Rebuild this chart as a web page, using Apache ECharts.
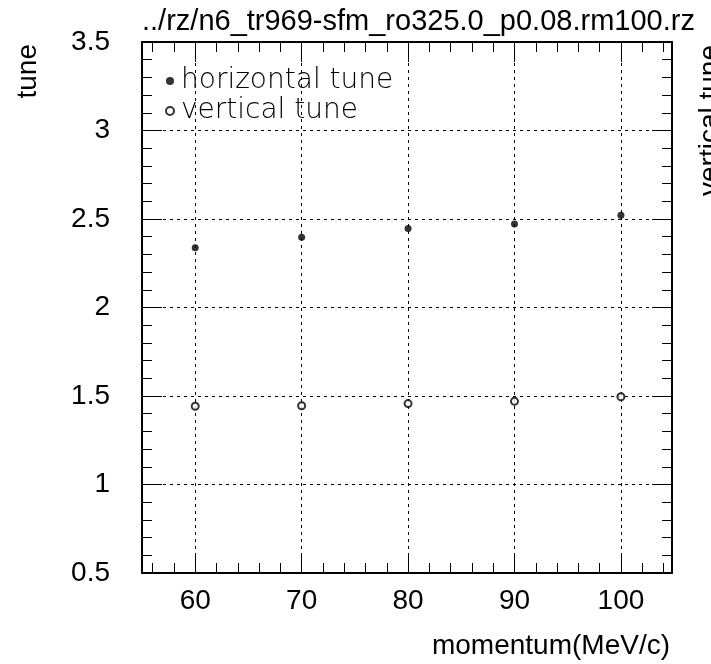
<!DOCTYPE html>
<html>
<head>
<meta charset="utf-8">
<script src="https://cdn.jsdelivr.net/npm/echarts@6/dist/echarts.min.js"></script>
<style>
html,body{margin:0;padding:0;background:#fff;}
#chart{width:711px;height:664px;}
</style>
</head>
<body>
<div id="chart"></div>
<script>
// ---- data ----
var momentum = [60, 70, 80, 90, 100];
var horizontalTune = [2.338, 2.397, 2.447, 2.472, 2.521];
var verticalTune = [1.442, 1.445, 1.457, 1.470, 1.496];
var xMajorTicks = [60, 70, 80, 90, 100];
var xMinorTicks = [56, 58, 62, 64, 66, 68, 72, 74, 76, 78, 82, 84, 86, 88, 92, 94, 96, 98, 102, 104];
var titleText = '../rz/n6_tr969-sfm_ro325.0_p0.08.rm100.rz';
var seriesNames = ['horizontal tune', 'vertical tune'];

var FONT = '"Liberation Sans", Arial, Helvetica, sans-serif';
var X_MIN = 55, X_MAX = 104.8, Y_MIN = 0.5, Y_MAX = 3.5;

function pairs(xs, ys) { return xs.map(function (x, i) { return [x, ys[i]]; }); }

var chart = echarts.init(document.getElementById('chart'), null, { renderer: 'canvas' });

var gridLine = { show: true, lineStyle: { color: '#000', width: 1, type: [3, 4] } };

function xAxisDef(pos, ticks, len, main) {
  return {
    type: 'value', position: pos, min: X_MIN, max: X_MAX,
    axisLine: { show: main, onZero: false, lineStyle: { color: '#000', width: 2 } },
    axisTick: { show: true, inside: true, length: len, customValues: ticks, lineStyle: { color: '#000', width: 1 } },
    axisLabel: (pos === 'bottom' && main) ? { show: true, customValues: xMajorTicks, margin: 14, color: '#000', fontSize: 28, fontFamily: FONT } : { show: false },
    splitLine: (pos === 'bottom' && main) ? gridLine : { show: false },
    minorTick: { show: false }
  };
}
function yAxisDef(pos, main) {
  return {
    type: 'value', position: pos, min: Y_MIN, max: Y_MAX, interval: 0.5,
    axisLine: { show: true, onZero: false, lineStyle: { color: '#000', width: 2 } },
    axisTick: { show: true, inside: true, length: 20, lineStyle: { color: '#000', width: 1 } },
    minorTick: { show: true, splitNumber: 5, length: 10, lineStyle: { color: '#000', width: 1 } },
    axisLabel: main ? { show: true, margin: 32, color: '#000', fontSize: 28, fontFamily: FONT } : { show: false },
    splitLine: main ? gridLine : { show: false }
  };
}

var option = {
  backgroundColor: '#fff',
  animation: false,
  grid: { left: 142, right: 39, top: 42, bottom: 91, containLabel: false, outerBoundsMode: 'none' },
  title: {
    text: titleText, left: 137, top: 2,
    textStyle: { color: '#000', fontSize: 29, fontWeight: 'normal', fontFamily: FONT }
  },
  legend: {
    orient: 'vertical', left: 160, top: 62, itemGap: 2,
    itemWidth: 8, itemHeight: 8,
    data: [
      { name: seriesNames[0], icon: 'circle' },
      { name: seriesNames[1], icon: 'circle' }
    ],
    textStyle: { color: '#000', fontSize: 28, fontWeight: 200, fontFamily: '"DejaVu Sans", sans-serif', padding: [0, 0, 0, 2] }
  },
  xAxis: [
    xAxisDef('bottom', xMajorTicks, 20, true),
    xAxisDef('top', xMajorTicks, 20, true),
    xAxisDef('bottom', xMinorTicks, 10, false),
    xAxisDef('top', xMinorTicks, 10, false)
  ],
  yAxis: [yAxisDef('left', true), yAxisDef('right', false)],
  graphic: [
    { type: 'text', x: 14, y: 44, rotation: Math.PI / 2,
      style: { text: 'tune', font: '28px ' + FONT, fill: '#000', align: 'right', verticalAlign: 'top' } },
    { type: 'text', x: 696, y: 45, rotation: Math.PI / 2,
      style: { text: 'vertical tune', font: '28px ' + FONT, fill: '#000', align: 'right', verticalAlign: 'top' } },
    { type: 'text', x: 670, y: 632,
      style: { text: 'momentum(MeV/c)', font: '28px ' + FONT, fill: '#000', align: 'right', verticalAlign: 'top' } }
  ],
  series: [
    { name: seriesNames[0], type: 'scatter', xAxisIndex: 0, yAxisIndex: 0,
      symbol: 'circle', symbolSize: 7, z: 5,
      itemStyle: { color: '#000' },
      data: pairs(momentum, horizontalTune) },
    { name: seriesNames[1], type: 'scatter', xAxisIndex: 0, yAxisIndex: 0,
      symbol: 'circle', symbolSize: 7, z: 5,
      itemStyle: { color: '#fff', borderColor: '#000', borderWidth: 2 },
      data: pairs(momentum, verticalTune) }
  ]
};
chart.setOption(option);
</script>
</body>
</html>
